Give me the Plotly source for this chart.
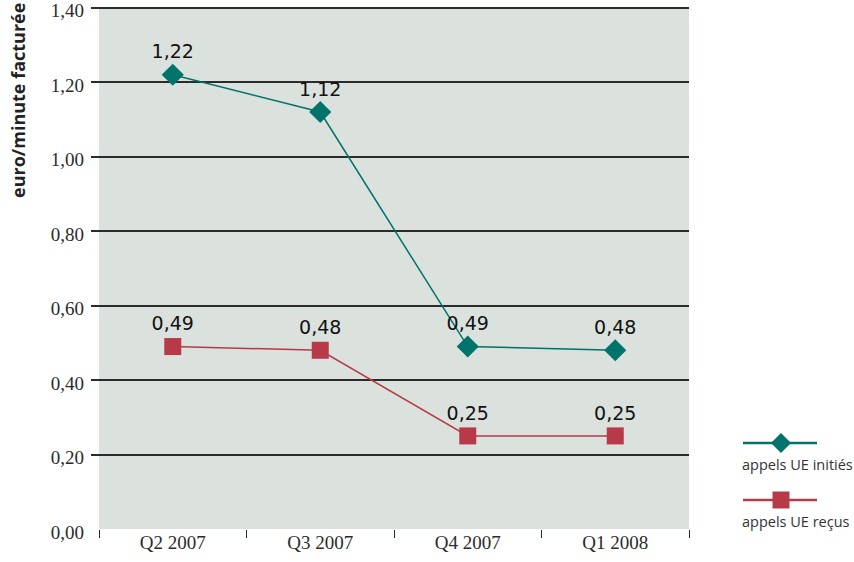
import plotly.graph_objects as go

# Quarterly price per billed minute (EUR)
quarters = ["Q2 2007", "Q3 2007", "Q4 2007", "Q1 2008"]
initiated = [1.22, 1.12, 0.49, 0.48]
received = [0.49, 0.48, 0.25, 0.25]
y_ticks = [0.0, 0.2, 0.4, 0.6, 0.8, 1.0, 1.2, 1.4]
y_max = 1.41

series_names = ["appels UE initiés", "appels UE reçus"]
teal = "#00736A"
red = "#B83A48"
plot_bg = "#DBE1DD"
ink = "#2B2B2B"

W, H = 854, 562
L, R, T, B = 91, 165, 4, 33
plot_w = W - L - R
plot_h = H - T - B
n_cat = len(quarters)
stub_px = 8                      # gridlines run 8px left of the shaded panel
cat_px = (plot_w - stub_px) / n_cat
x_lo = -0.5 - stub_px / cat_px


def px_x(px):
    return (px - L) / plot_w


def px_y(py):
    return (H - B - py) / plot_h


fig = go.Figure()

label_font = dict(family="DejaVu Sans", size=19, color="#111111")

fig.add_trace(go.Scatter(
    x=quarters, y=initiated, mode="lines+markers+text",
    line=dict(color=teal, width=1.5),
    marker=dict(symbol="diamond", size=17, color=teal),
    text=[f"{v:.2f}".replace(".", ",") for v in initiated],
    textposition="top center", textfont=label_font,
    cliponaxis=False, showlegend=False, name=series_names[0],
))
fig.add_trace(go.Scatter(
    x=quarters, y=received, mode="lines+markers+text",
    line=dict(color=red, width=1.5),
    marker=dict(symbol="square", size=17, color=red),
    text=[f"{v:.2f}".replace(".", ",") for v in received],
    textposition="top center", textfont=label_font,
    cliponaxis=False, showlegend=False, name=series_names[1],
))

# Hand-built legend: line sample with centred marker, caption underneath
shapes = []
annotations = []

legend_rows = [
    (443, teal, "M-10,0L0,-10L10,0L0,10Z"),
    (500, red, "M-8.5,-8.5L8.5,-8.5L8.5,8.5L-8.5,8.5Z"),
]
for (ly, col, glyph), name in zip(legend_rows, series_names):
    shapes.append(dict(type="line", xref="paper", yref="paper",
                       x0=px_x(743), x1=px_x(817), y0=px_y(ly), y1=px_y(ly),
                       line=dict(color=col, width=2.5)))
    shapes.append(dict(type="path", xref="paper", yref="paper",
                       xsizemode="pixel", ysizemode="pixel",
                       xanchor=px_x(781), yanchor=px_y(ly),
                       path=glyph, fillcolor=col, line=dict(width=0)))
    annotations.append(dict(
        x=px_x(740), y=px_y(ly + 21), xref="paper", yref="paper", text=name,
        showarrow=False, xanchor="left", yanchor="middle",
        font=dict(family="Open Sans", size=14.5, color="#333333"),
    ))

annotations.append(dict(
    x=px_x(18), y=px_y(101), xref="paper", yref="paper",
    text="<b>euro/minute facturée</b>", textangle=-90, showarrow=False,
    xanchor="center", yanchor="middle",
    font=dict(family="Open Sans", size=18, color="#222222"),
))

tick_font = dict(family="Liberation Serif", size=19, color=ink)

fig.update_layout(
    template="none",
    width=W, height=H,
    margin=dict(l=L, r=R, t=T, b=B, autoexpand=False),
    paper_bgcolor="white",
    plot_bgcolor="rgba(0,0,0,0)",
    separators=", ",
    xaxis=dict(
        type="category", range=[x_lo, n_cat - 0.5], automargin=False,
        tickmode="array", tickvals=quarters,
        tickson="boundaries", ticks="outside", ticklen=8, tickwidth=1,
        tickcolor=ink, showgrid=False, showline=False, zeroline=False,
        tickfont=tick_font,
    ),
    yaxis=dict(
        range=[0, y_max], tickvals=y_ticks, automargin=False,
        ticktext=[f"{v:.2f}".replace(".", ",") for v in y_ticks],
        ticks="", showgrid=True, gridcolor=ink, gridwidth=1.5,
        showline=False, zeroline=False, tickfont=tick_font,
        ticklabelstandoff=6, ticklabeloverflow="allow", ticklabelshift=3,
    ),
    shapes=[dict(type="rect", xref="x", yref="y", x0=-0.5,
                 x1=n_cat - 0.5, y0=0, y1=y_ticks[-1],
                 fillcolor=plot_bg, line=dict(width=0), layer="below")]
    + shapes,
    annotations=annotations,
)

fig.write_html("out.html")
